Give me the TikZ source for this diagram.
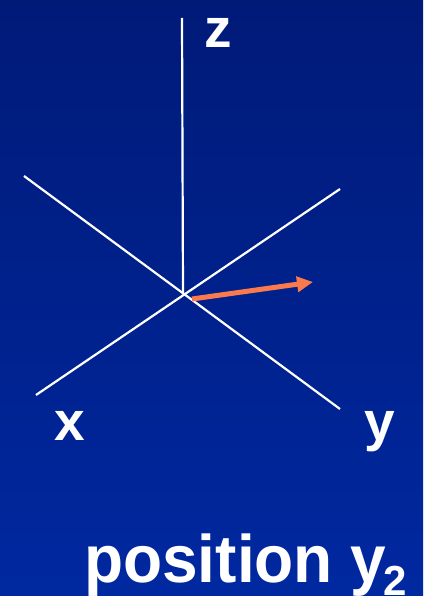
\documentclass[tikz,border=0pt]{standalone}
\usepackage{fontspec}
\setmainfont{Liberation Sans}
\usetikzlibrary{arrows.meta}
\definecolor{bgtop}{HTML}{001A78}
\definecolor{bgbot}{HTML}{0028A0}
\definecolor{arrowc}{HTML}{FA7A4E}
\tikzset{
  axis/.style={draw=white, line width=2.2pt},
  lbl/.style={text=white, font=\bfseries\fontsize{55}{60}\selectfont, inner sep=0pt, anchor=base west},
  vec/.style={draw=arrowc, line width=5pt, -{Triangle[length=16pt,width=15pt]}}
}
\begin{document}
\begin{tikzpicture}[x=1pt,y=-1pt]
\shade[top color=bgtop, bottom color=bgbot] (0,0) rectangle (423,596);
\useasboundingbox (0,0) rectangle (423,596);
\coordinate (o) at (183,294);
\coordinate (zt) at (182,18);
\coordinate (ul) at (24,176);
\coordinate (lr) at (340,409);
\coordinate (ur) at (340,189);
\coordinate (ll) at (36,395);
\coordinate (vs) at (192,299);
\coordinate (ve) at (313,282);
\draw[axis] (zt) -- (o);
\draw[axis] (ul) -- (lr);
\draw[axis] (ur) -- (ll);
\draw[vec] (vs) -- (ve);
\node[lbl] (zl) at (204,48) {z};
\node[lbl] (xl) at (54,440) {x};
\node[lbl] (yl) at (364,440) {y};
\node[lbl, font=\bfseries\fontsize{64}{68}\selectfont, yscale=1.05] (pl) at (84,582) {position y};
\node[lbl, font=\bfseries\fontsize{42}{46}\selectfont] (sub) at (383,595) {2};
\end{tikzpicture}
\end{document}
